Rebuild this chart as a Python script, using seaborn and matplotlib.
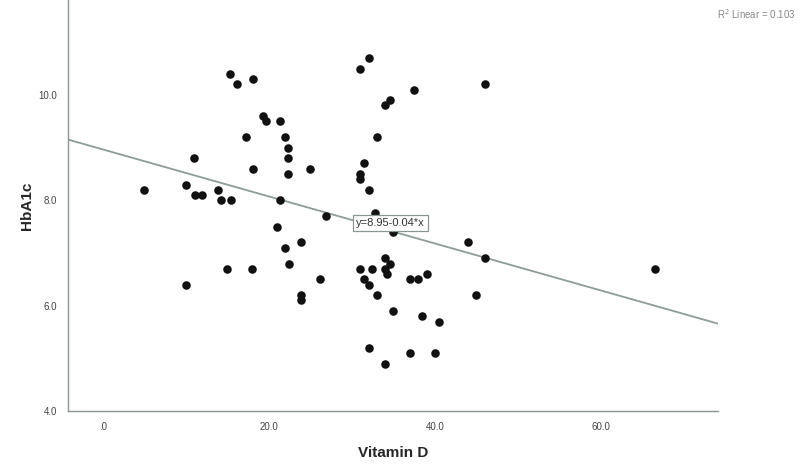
import matplotlib
matplotlib.use("Agg")
import matplotlib.pyplot as plt
from matplotlib.ticker import FuncFormatter
import seaborn as sns
import pandas as pd
import numpy as np

# values
vitamin_d = [5.0, 10.0, 10.0, 11.0, 11.1, 12.0, 13.9, 14.2, 15.4, 14.9,
             15.3, 16.1, 18.1, 17.3, 18.1, 18.0, 19.3, 19.6, 21.3, 21.9,
             22.3, 22.3, 22.3, 21.3, 21.0, 21.9, 23.9, 22.4, 23.9, 23.9,
             25.0, 26.1, 26.9, 32.0, 31.0, 46.0, 37.5, 34.6, 34.0, 33.0,
             31.5, 31.0, 31.0, 32.0, 32.8, 35.0, 44.0, 46.0, 34.0, 34.6,
             34.0, 34.2, 31.0, 32.4, 31.4, 32.0, 37.0, 38.0, 39.0, 33.0,
             45.0, 35.0, 38.5, 40.5, 32.0, 37.0, 40.0, 34.0, 66.5]
hba1c = [8.2, 8.3, 6.4, 8.8, 8.1, 8.1, 8.2, 8.0, 8.0, 6.7,
         10.4, 10.2, 10.3, 9.2, 8.6, 6.7, 9.6, 9.5, 9.5, 9.2,
         9.0, 8.8, 8.5, 8.0, 7.5, 7.1, 7.2, 6.8, 6.2, 6.1,
         8.6, 6.5, 7.7, 10.7, 10.5, 10.2, 10.1, 9.9, 9.8, 9.2,
         8.7, 8.5, 8.4, 8.2, 7.75, 7.4, 7.2, 6.9, 6.9, 6.8,
         6.7, 6.6, 6.7, 6.7, 6.5, 6.4, 6.5, 6.5, 6.6, 6.2,
         6.2, 5.9, 5.8, 5.7, 5.2, 5.1, 5.1, 4.9, 6.7]

x_ticks = [0, 20, 40, 60]
y_ticks = [4, 6, 8, 10]
fit_label = "y=8.95-0.04*x"
r2_label = "R$^2$ Linear = 0.103"

df = pd.DataFrame({"Vitamin D": vitamin_d, "HbA1c": hba1c})

sns.set_style("white")
plt.rcParams["font.family"] = ["Liberation Sans", "DejaVu Sans"]

fig = plt.figure(figsize=(8, 4.71), dpi=100)
ax = fig.add_axes([0.085, 0.127, 0.8125, 0.873])
ax.set_xlim(-4.2, 74.1)
ax.set_ylim(4.0, 11.8)

line_col = "#8c9c9a"
sns.regplot(data=df, x="Vitamin D", y="HbA1c", ax=ax, ci=None, truncate=False,
            scatter_kws={"s": 38, "color": "#111111", "alpha": 1,
                         "linewidths": 0, "zorder": 3},
            line_kws={"color": line_col, "lw": 1.3, "zorder": 2})

fmt = FuncFormatter(lambda v, p: ".0" if v == 0 else f"{v:.1f}")
ax.set_xticks(x_ticks)
ax.set_yticks(y_ticks)
ax.xaxis.set_major_formatter(fmt)
ax.yaxis.set_major_formatter(fmt)
ax.tick_params(labelsize=7, colors="#444444", length=0, pad=8)

for side in ["top", "right"]:
    ax.spines[side].set_visible(False)
for side in ["left", "bottom"]:
    ax.spines[side].set_color("#8a9696")
    ax.spines[side].set_linewidth(1.0)

ax.set_xlabel("Vitamin D", fontsize=11, fontweight="bold", labelpad=10)
ax.set_ylabel("HbA1c", fontsize=11, fontweight="bold", labelpad=3)

ax.text(30.5, 7.57, fit_label, fontsize=8, color="#333333", va="center", ha="left",
        zorder=4, bbox=dict(boxstyle="square,pad=0.25", fc="white", ec="#8a9696", lw=0.9))
fig.text(0.995, 0.985, r2_label, fontsize=7, color="#888888", ha="right", va="top")

fig.savefig("out.png", dpi=100)
